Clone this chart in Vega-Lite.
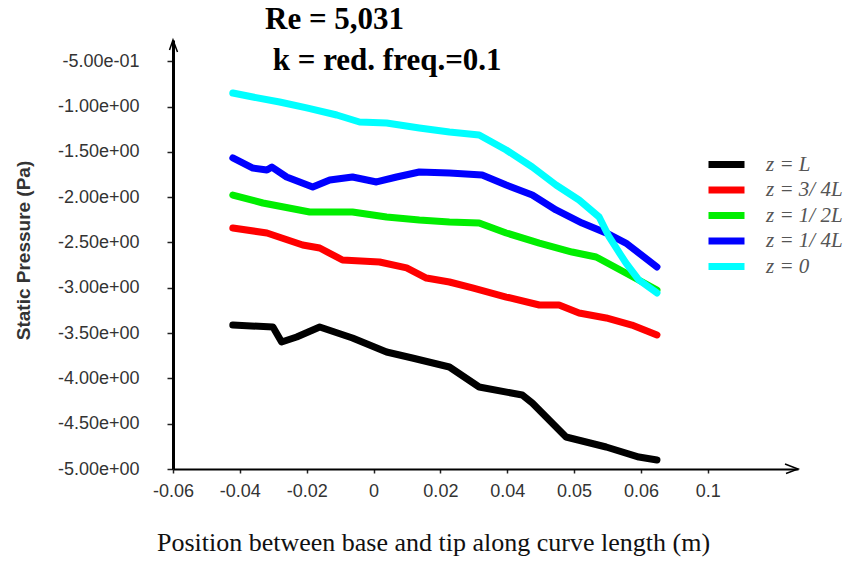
{
  "$schema": "https://vega.github.io/schema/vega-lite/v6.json",
  "width": 625,
  "height": 429,
  "autosize": {"type": "none"},
  "padding": {"left": 173, "top": 40, "right": 59, "bottom": 92},
  "background": "white",
  "config": {"view": {"stroke": null}, "axis": {"grid": false}},
  "title": {
    "text": "Re = 5,031",
    "subtitle": "\u200b\u00a0k = red. freq.=0.1",
    "anchor": "start",
    "frame": "group",
    "dx": 92,
    "offset": -40,
    "font": "Liberation Serif",
    "fontSize": 31,
    "fontWeight": "bold",
    "color": "#000000",
    "subtitleFont": "Liberation Serif",
    "subtitleFontSize": 31,
    "subtitleFontWeight": "bold",
    "subtitleColor": "#000000",
    "subtitlePadding": 10
  },
  "datasets": {
    "curves": [
      {"series": "z = L", "position": -0.0421, "pressure": -3.411},
      {"series": "z = L", "position": -0.0301, "pressure": -3.433},
      {"series": "z = L", "position": -0.0275, "pressure": -3.598},
      {"series": "z = L", "position": -0.0230, "pressure": -3.543},
      {"series": "z = L", "position": -0.0161, "pressure": -3.433},
      {"series": "z = L", "position": -0.0063, "pressure": -3.554},
      {"series": "z = L", "position": 0.0039, "pressure": -3.709},
      {"series": "z = L", "position": 0.0116, "pressure": -3.775},
      {"series": "z = L", "position": 0.0227, "pressure": -3.874},
      {"series": "z = L", "position": 0.0316, "pressure": -4.095},
      {"series": "z = L", "position": 0.0445, "pressure": -4.183},
      {"series": "z = L", "position": 0.0475, "pressure": -4.272},
      {"series": "z = L", "position": 0.0576, "pressure": -4.647},
      {"series": "z = L", "position": 0.0696, "pressure": -4.757},
      {"series": "z = L", "position": 0.0794, "pressure": -4.868},
      {"series": "z = L", "position": 0.0848, "pressure": -4.901},

      {"series": "z = 3/ 4L", "position": -0.0421, "pressure": -2.340},
      {"series": "z = 3/ 4L", "position": -0.0319, "pressure": -2.395},
      {"series": "z = 3/ 4L", "position": -0.0212, "pressure": -2.528},
      {"series": "z = 3/ 4L", "position": -0.0161, "pressure": -2.561},
      {"series": "z = 3/ 4L", "position": -0.0093, "pressure": -2.693},
      {"series": "z = 3/ 4L", "position": 0.0018, "pressure": -2.715},
      {"series": "z = 3/ 4L", "position": 0.0099, "pressure": -2.781},
      {"series": "z = 3/ 4L", "position": 0.0158, "pressure": -2.892},
      {"series": "z = 3/ 4L", "position": 0.0227, "pressure": -2.936},
      {"series": "z = 3/ 4L", "position": 0.0296, "pressure": -3.002},
      {"series": "z = 3/ 4L", "position": 0.0397, "pressure": -3.102},
      {"series": "z = 3/ 4L", "position": 0.0496, "pressure": -3.190},
      {"series": "z = 3/ 4L", "position": 0.0555, "pressure": -3.190},
      {"series": "z = 3/ 4L", "position": 0.0615, "pressure": -3.278},
      {"series": "z = 3/ 4L", "position": 0.0696, "pressure": -3.333},
      {"series": "z = 3/ 4L", "position": 0.0773, "pressure": -3.411},
      {"series": "z = 3/ 4L", "position": 0.0848, "pressure": -3.521},

      {"series": "z = 1/ 2L", "position": -0.0421, "pressure": -1.976},
      {"series": "z = 1/ 2L", "position": -0.0331, "pressure": -2.064},
      {"series": "z = 1/ 2L", "position": -0.0191, "pressure": -2.163},
      {"series": "z = 1/ 2L", "position": -0.0063, "pressure": -2.163},
      {"series": "z = 1/ 2L", "position": 0.0039, "pressure": -2.219},
      {"series": "z = 1/ 2L", "position": 0.0137, "pressure": -2.252},
      {"series": "z = 1/ 2L", "position": 0.0227, "pressure": -2.274},
      {"series": "z = 1/ 2L", "position": 0.0316, "pressure": -2.285},
      {"series": "z = 1/ 2L", "position": 0.0397, "pressure": -2.395},
      {"series": "z = 1/ 2L", "position": 0.0496, "pressure": -2.506},
      {"series": "z = 1/ 2L", "position": 0.0594, "pressure": -2.605},
      {"series": "z = 1/ 2L", "position": 0.0666, "pressure": -2.660},
      {"series": "z = 1/ 2L", "position": 0.0755, "pressure": -2.837},
      {"series": "z = 1/ 2L", "position": 0.0848, "pressure": -3.024},

      {"series": "z = 1/ 4L", "position": -0.0421, "pressure": -1.567},
      {"series": "z = 1/ 4L", "position": -0.0361, "pressure": -1.678},
      {"series": "z = 1/ 4L", "position": -0.0319, "pressure": -1.700},
      {"series": "z = 1/ 4L", "position": -0.0304, "pressure": -1.667},
      {"series": "z = 1/ 4L", "position": -0.0260, "pressure": -1.777},
      {"series": "z = 1/ 4L", "position": -0.0182, "pressure": -1.887},
      {"series": "z = 1/ 4L", "position": -0.0131, "pressure": -1.810},
      {"series": "z = 1/ 4L", "position": -0.0063, "pressure": -1.777},
      {"series": "z = 1/ 4L", "position": 0.0009, "pressure": -1.832},
      {"series": "z = 1/ 4L", "position": 0.0069, "pressure": -1.777},
      {"series": "z = 1/ 4L", "position": 0.0137, "pressure": -1.722},
      {"series": "z = 1/ 4L", "position": 0.0227, "pressure": -1.733},
      {"series": "z = 1/ 4L", "position": 0.0325, "pressure": -1.755},
      {"series": "z = 1/ 4L", "position": 0.0397, "pressure": -1.865},
      {"series": "z = 1/ 4L", "position": 0.0475, "pressure": -1.976},
      {"series": "z = 1/ 4L", "position": 0.0546, "pressure": -2.141},
      {"series": "z = 1/ 4L", "position": 0.0624, "pressure": -2.285},
      {"series": "z = 1/ 4L", "position": 0.0696, "pressure": -2.395},
      {"series": "z = 1/ 4L", "position": 0.0755, "pressure": -2.506},
      {"series": "z = 1/ 4L", "position": 0.0848, "pressure": -2.770},

      {"series": "z = 0", "position": -0.0421, "pressure": -0.850},
      {"series": "z = 0", "position": -0.0361, "pressure": -0.894},
      {"series": "z = 0", "position": -0.0281, "pressure": -0.949},
      {"series": "z = 0", "position": -0.0200, "pressure": -1.015},
      {"series": "z = 0", "position": -0.0110, "pressure": -1.093},
      {"series": "z = 0", "position": -0.0042, "pressure": -1.170},
      {"series": "z = 0", "position": 0.0039, "pressure": -1.181},
      {"series": "z = 0", "position": 0.0137, "pressure": -1.236},
      {"series": "z = 0", "position": 0.0227, "pressure": -1.280},
      {"series": "z = 0", "position": 0.0316, "pressure": -1.313},
      {"series": "z = 0", "position": 0.0397, "pressure": -1.479},
      {"series": "z = 0", "position": 0.0475, "pressure": -1.667},
      {"series": "z = 0", "position": 0.0546, "pressure": -1.865},
      {"series": "z = 0", "position": 0.0615, "pressure": -2.031},
      {"series": "z = 0", "position": 0.0675, "pressure": -2.219},
      {"series": "z = 0", "position": 0.0705, "pressure": -2.439},
      {"series": "z = 0", "position": 0.0755, "pressure": -2.726},
      {"series": "z = 0", "position": 0.0794, "pressure": -2.914},
      {"series": "z = 0", "position": 0.0848, "pressure": -3.057}
    ]
  },
  "layer": [
    {
      "data": {"name": "curves"},
      "mark": {"type": "line", "strokeWidth": 7, "strokeCap": "round", "strokeJoin": "round"},
      "encoding": {
        "x": {
          "field": "position",
          "type": "quantitative",
          "scale": {"domain": [-0.06, 0.127], "nice": false, "zero": false},
          "axis": {
            "values": [-0.06, -0.05, -0.04, -0.03, -0.02, -0.01, 0, 0.01, 0.02, 0.03, 0.04, 0.05, 0.06, 0.07, 0.08, 0.09, 0.1],
            "labelExpr": "['-0.06','','-0.04','','-0.02','','0','','0.02','','0.04','','0.05','','0.06','','0.1','',''][round((datum.value+0.06)*100)]",
            "domainColor": "#000000",
            "domainWidth": 2,
            "tickColor": "#222222",
            "tickWidth": 1.5,
            "tickSize": 4,
            "labelFont": "Liberation Sans",
            "labelFontSize": 18,
            "labelColor": "#333333",
            "labelPadding": 9,
            "labelFlush": false,
            "labelOverlap": false,
            "title": "Position between base and tip along curve length (m)",
            "titleFont": "Liberation Serif",
            "titleFontSize": 26,
            "titleFontWeight": "normal",
            "titleColor": "#111111",
            "titleX": 260,
            "titleY": 73,
            "titleAlign": "center",
            "titleBaseline": "middle"
          }
        },
        "y": {
          "field": "pressure",
          "type": "quantitative",
          "scale": {"domain": [-5, -0.265], "nice": false, "zero": false},
          "axis": {
            "values": [-0.5, -0.75, -1, -1.25, -1.5, -1.75, -2, -2.25, -2.5, -2.75, -3, -3.25, -3.5, -3.75, -4, -4.25, -4.5, -4.75, -5],
            "labelExpr": "abs(datum.value*2 - round(datum.value*2)) > 0.01 ? '' : ['-5.00e-01','-1.00e+00','-1.50e+00','-2.00e+00','-2.50e+00','-3.00e+00','-3.50e+00','-4.00e+00','-4.50e+00','-5.00e+00'][round(-datum.value*2)-1]",
            "domainColor": "#000000",
            "domainWidth": 3,
            "tickColor": "#222222",
            "tickWidth": 1.5,
            "tickSize": {"condition": {"test": "abs(datum.value*2 - round(datum.value*2)) > 0.01", "value": 3}, "value": 6},
            "labelFont": "Liberation Sans",
            "labelFontSize": 18,
            "labelColor": "#333333",
            "labelPadding": 28,
            "labelOverlap": false,
            "labelFlush": false,
            "title": "Static Pressure (Pa)",
            "titleFont": "Liberation Sans",
            "titleFontSize": 19,
            "titleFontWeight": "bold",
            "titleColor": "#333333",
            "titleX": -150,
            "titleY": 210,
            "titleAngle": -90,
            "titleAlign": "center",
            "titleBaseline": "middle"
          }
        },
        "color": {
          "field": "series",
          "type": "nominal",
          "scale": {
            "domain": ["z = L", "z = 3/ 4L", "z = 1/ 2L", "z = 1/ 4L", "z = 0"],
            "range": ["#000000", "#ff0000", "#00ee00", "#0000ff", "#00ffff"]
          },
          "legend": {
            "orient": "none",
            "legendX": 543,
            "legendY": 114,
            "title": null,
            "symbolType": "M-3,0L3,0",
            "symbolSize": 144,
            "symbolStrokeWidth": 7,
            "labelFont": "Liberation Serif",
            "labelFontStyle": "italic",
            "labelFontSize": 21,
            "labelColor": "#555555",
            "labelOffset": 29,
            "rowPadding": -3.5
          }
        }
      }
    },
    {
      "data": {"values": [{}]},
      "mark": {"type": "point", "shape": "M-0.35,1L0,0L0.45,1.2", "filled": false, "stroke": "#000000", "strokeWidth": 1.5, "size": 400, "opacity": 1},
      "encoding": {
        "x": {"datum": -0.06, "type": "quantitative"},
        "y": {"datum": -0.265, "type": "quantitative"}
      }
    },
    {
      "data": {"values": [{}]},
      "mark": {"type": "point", "shape": "M-1.3,-0.5L0,0L-1.2,0.45", "filled": false, "stroke": "#000000", "strokeWidth": 1.5, "size": 400, "opacity": 1},
      "encoding": {
        "x": {"datum": 0.127, "type": "quantitative"},
        "y": {"datum": -5, "type": "quantitative"}
      }
    }
  ]
}
